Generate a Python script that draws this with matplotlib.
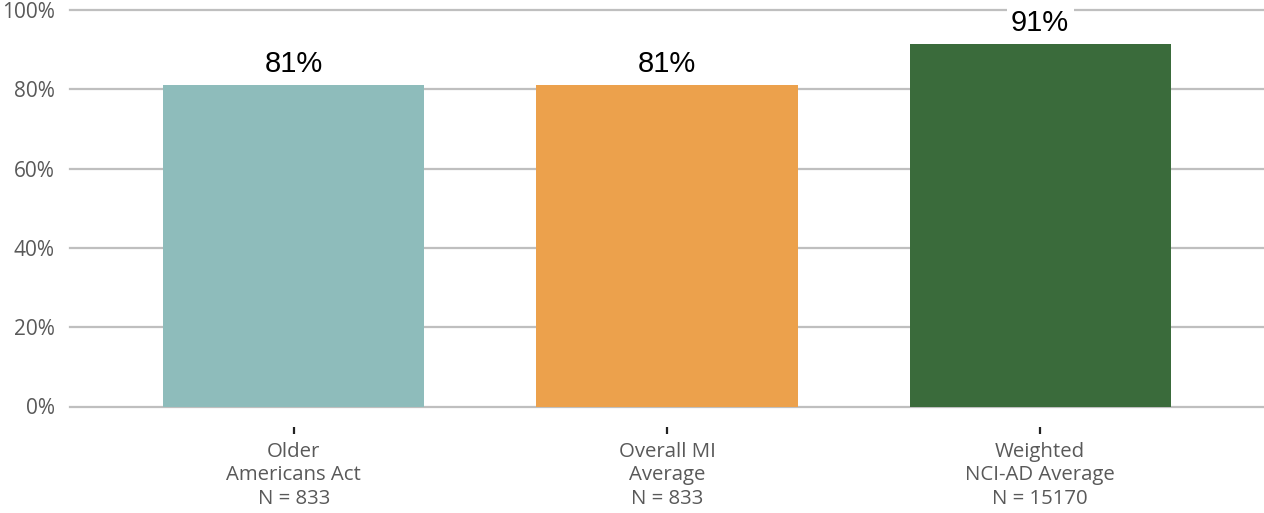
import matplotlib
matplotlib.use("Agg")
import matplotlib.pyplot as plt

categories = ["Older\nAmericans Act\nN = 833", "Overall MI\nAverage\nN = 833", "Weighted\nNCI-AD Average\nN = 15170"]
values = [81.2, 81.0, 91.5]
value_labels = ["81%", "81%", "91%"]
colors = ["#8EBCBB", "#ECA14C", "#3A6B3B"]
yticks = [0, 20, 40, 60, 80, 100]
ytick_labels = ["0%", "20%", "40%", "60%", "80%", "100%"]

fig = plt.figure(figsize=(12.64, 5.13), dpi=100)
ax = fig.add_axes([70/1264, 1 - 406.5/513, (1264-70)/1264, 396.5/513])

x = list(range(len(categories)))
ax.bar(x, values, width=0.70, color=colors, zorder=2)
ax.set_xlim(-0.6, 2.6)
ax.set_ylim(0, 100)
for s in ["top", "right", "left", "bottom"]:
    ax.spines[s].set_visible(False)
ax.spines["bottom"].set_position(("outward", 15))

ax.set_yticks(yticks)
ax.set_yticklabels(ytick_labels, fontfamily="Open Sans", fontsize=15, color="#595959")
ax.tick_params(axis="y", length=0, pad=11)
ax.set_axisbelow(True)
ax.grid(axis="y", color="#BFBFBF", linewidth=1.6, zorder=0)
for gl in ax.get_ygridlines():
    gl.set_clip_on(False)

ax.set_xticks(x)
ax.set_xticklabels(categories, fontfamily="Open Sans", fontsize=14.7, color="#595959", linespacing=1.22)
ax.tick_params(axis="x", length=5, width=1.6, color="#222222", pad=5.5)

for xi, v, lab in zip(x, values, value_labels):
    ax.annotate(lab, (xi, v), xytext=(0, 5), textcoords="offset points",
                ha="center", va="bottom", fontsize=21, fontfamily="Liberation Sans",
                color="black", zorder=3,
                bbox=dict(boxstyle="square,pad=0.15", fc="white", ec="none"))

fig.savefig("out.png", dpi=100)
